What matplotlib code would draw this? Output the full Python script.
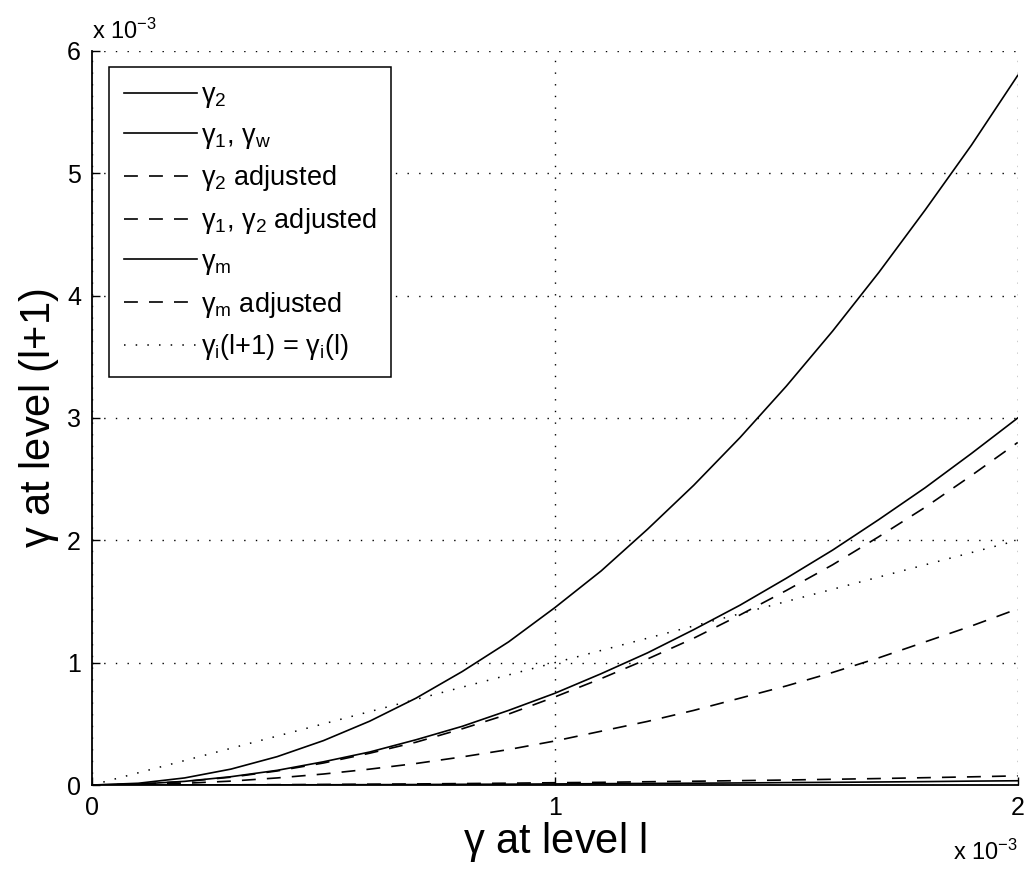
import numpy as np
import matplotlib
matplotlib.use("Agg")
import matplotlib.pyplot as plt

plt.rcParams['font.family'] = ['Liberation Sans', 'DejaVu Sans']
plt.rcParams['mathtext.fontset'] = 'custom'
plt.rcParams['mathtext.rm'] = 'Liberation Sans'
plt.rcParams['mathtext.it'] = 'Liberation Sans'
plt.rcParams['mathtext.default'] = 'regular'
plt.rcParams['lines.scale_dashes'] = False

# values in units of 1e-3
gamma_l = [0.0, 0.1, 0.2, 0.3, 0.4, 0.5, 0.6, 0.7, 0.8, 0.9, 1.0,
           1.1, 1.2, 1.3, 1.4, 1.5, 1.6, 1.7, 1.8, 1.9, 2.0]
g2 = [0, 0.0145, 0.058, 0.13, 0.232, 0.363, 0.522, 0.71, 0.928, 1.17, 1.45,
      1.75, 2.09, 2.45, 2.84, 3.26, 3.71, 4.19, 4.70, 5.23, 5.80]
g1_gw = [0, 0.0075, 0.03, 0.068, 0.12, 0.19, 0.27, 0.37, 0.48, 0.61, 0.75,
         0.91, 1.08, 1.27, 1.47, 1.69, 1.92, 2.17, 2.43, 2.71, 3.00]
g2_adj = [0, 0.0036, 0.014, 0.032, 0.058, 0.09, 0.13, 0.176, 0.23, 0.29, 0.36,
          0.44, 0.52, 0.61, 0.71, 0.81, 0.92, 1.04, 1.17, 1.30, 1.44]
g1_g2_adj = [0, 0.007, 0.028, 0.064, 0.115, 0.18, 0.26, 0.35, 0.46, 0.58, 0.72,
             0.87, 1.03, 1.20, 1.39, 1.59, 1.80, 2.03, 2.27, 2.53, 2.80]
gm = [0, 0.0001, 0.0004, 0.001, 0.0015, 0.002, 0.003, 0.004, 0.006, 0.007, 0.009,
      0.011, 0.013, 0.015, 0.017, 0.02, 0.022, 0.025, 0.028, 0.032, 0.035]
gm_adj = [0, 0.0002, 0.0008, 0.002, 0.003, 0.005, 0.007, 0.009, 0.012, 0.015, 0.019,
          0.022, 0.027, 0.031, 0.036, 0.041, 0.047, 0.053, 0.06, 0.067, 0.075]
identity = [0.0, 2.0]

labels = [r'$\gamma_2$', r'$\gamma_1$, $\gamma_w$', r'$\gamma_2$ adjusted',
          r'$\gamma_1$, $\gamma_2$ adjusted', r'$\gamma_m$', r'$\gamma_m$ adjusted',
          r'$\gamma_i$(l+1) = $\gamma_i$(l)']

fig = plt.figure(figsize=(10.28, 8.71), dpi=100)
ax = fig.add_axes([0.0895, 0.0987, 0.9005, 0.8428])

dash = (0, (10, 8))
dot = (0, (1.1, 7.3))
lw = 1.2
ax.plot(gamma_l, g2, color='k', lw=lw, label=labels[0])
ax.plot(gamma_l, g1_gw, color='k', lw=lw, label=labels[1])
ax.plot(gamma_l, g2_adj, color='k', lw=lw, ls=dash, label=labels[2])
ax.plot(gamma_l, g1_g2_adj, color='k', lw=lw, ls=dash, label=labels[3])
ax.plot(gamma_l, gm, color='k', lw=lw, label=labels[4])
ax.plot(gamma_l, gm_adj, color='k', lw=lw, ls=dash, label=labels[5])
ax.plot(identity, identity, color='k', lw=1.1, ls=dot, label=labels[6])

ax.set_xlim(0, 2)
ax.set_ylim(0, 6)
ax.set_xticks([0, 1, 2])
ax.set_yticks([0, 1, 2, 3, 4, 5, 6])
ax.grid(True, color='k', lw=1.0, ls=(0, (1.0, 7.4)))
ax.spines['top'].set_visible(False)
ax.spines['right'].set_visible(False)
for s in ['left', 'bottom']:
    ax.spines[s].set_linewidth(1.3)
ax.tick_params(direction='in', length=6, width=1, labelsize=18, pad=8)

ax.set_xlabel(r'$\gamma$ at level l', fontsize=30, labelpad=0)
ax.set_ylabel(r'$\gamma$ at level (l+1)', fontsize=30, labelpad=4)

ax.text(0.0, 1.01, r'x 10$^{-3}$', transform=ax.transAxes, fontsize=17,
        ha='left', va='bottom')
ax.text(1.0, -0.075, r'x 10$^{-3}$', transform=ax.transAxes, fontsize=17,
        ha='right', va='top')

leg = ax.legend(loc='upper left', bbox_to_anchor=(0.018, 0.978), fontsize=19.5,
                frameon=True, fancybox=False, framealpha=1, edgecolor='k',
                handlelength=2.7, handletextpad=0.15, labelspacing=0.47,
                borderpad=0.55, borderaxespad=0)
leg.get_frame().set_linewidth(1.1)

fig.savefig('out.png', dpi=100)
